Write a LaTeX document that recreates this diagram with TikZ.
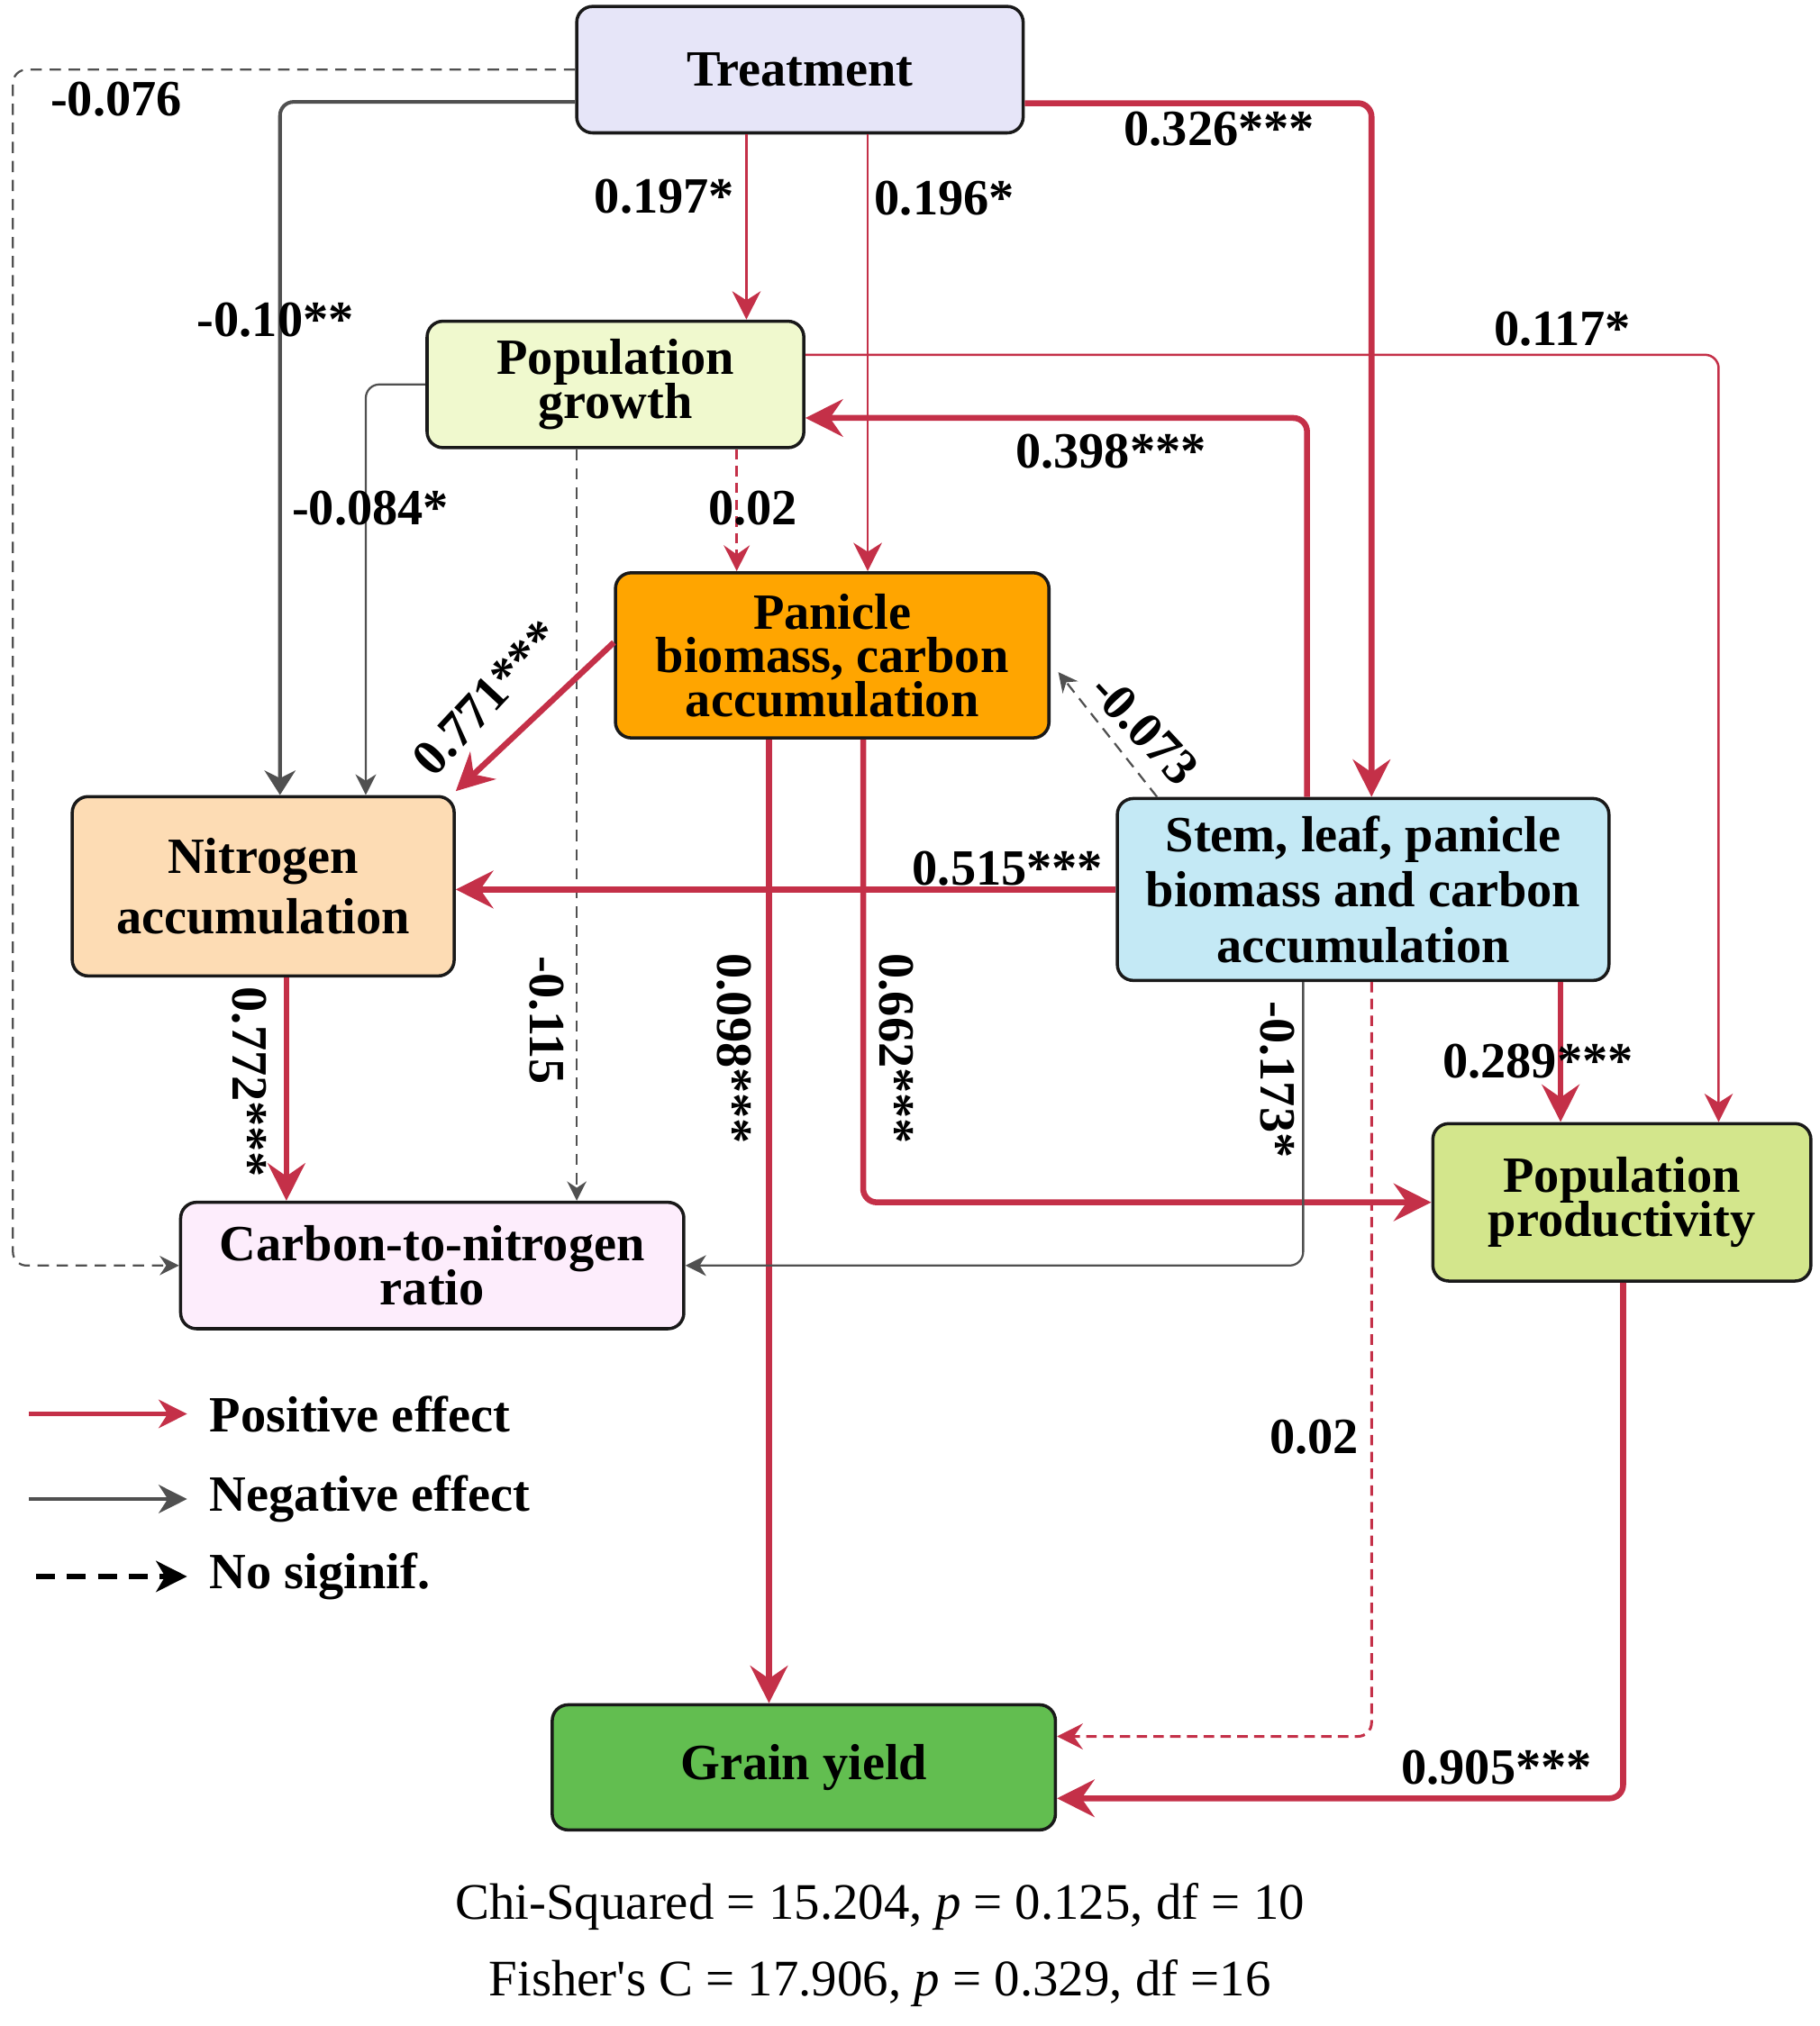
\documentclass[tikz,border=0pt]{standalone}
\usepackage{fontspec}
\setmainfont{Liberation Serif}
\newfontfamily\statfont{Liberation Serif}
\usepackage{tikz}
\usepackage{xcolor}
\usetikzlibrary{positioning,arrows.meta}

\definecolor{effred}{RGB}{196,48,72}
\definecolor{effgrey}{RGB}{80,80,80}
\definecolor{cTreat}{RGB}{230,229,248}
\definecolor{cPopG}{RGB}{240,249,206}
\definecolor{cPan}{RGB}{255,165,0}
\definecolor{cNit}{RGB}{253,220,180}
\definecolor{cStem}{RGB}{196,233,245}
\definecolor{cPopP}{RGB}{211,230,140}
\definecolor{cCN}{RGB}{253,237,252}
\definecolor{cGY}{RGB}{98,190,80}
\newcommand{\tightlines}{\lineskiplimit=-20pt\relax}

\begin{document}
\begin{tikzpicture}[font=\bfseries\fontsize{11.2}{9.6}\selectfont\tightlines,
   box/.style={draw=black!90, line width=0.7pt, rounded corners=3.5pt, align=center, inner sep=0pt},
   posthick/.style={effred, line width=1.3pt, rounded corners=3pt, -{Stealth[length=0.29cm,width=0.29cm,inset=0.1cm]}},
   posthin/.style={effred, line width=0.5pt, rounded corners=3pt, -{Stealth[length=0.22cm,width=0.22cm,inset=0.07cm]}},
   negthick/.style={effgrey, line width=0.8pt, rounded corners=3pt, -{Stealth[length=0.19cm,width=0.24cm,inset=0.06cm]}},
   negthin/.style={effgrey, line width=0.45pt, rounded corners=3pt, -{Stealth[length=0.16cm,width=0.16cm,inset=0.05cm]}},
   nsgrey/.style={effgrey, line width=0.45pt, rounded corners=3pt, dash pattern=on 2.5pt off 1.7pt, -{Stealth[length=0.15cm,width=0.15cm,inset=0.05cm]}},
   nsred/.style={effred, line width=0.6pt, rounded corners=3pt, dash pattern=on 2.3pt off 1.4pt, -{Stealth[length=0.2cm,width=0.2cm,inset=0.07cm]}},
   lab/.style={inner sep=1pt},
   legtxt/.style={anchor=west, inner sep=0pt}]
   \useasboundingbox (0,0) rectangle (14.10,-15.705);

   \node[box, fill=cTreat, minimum width=3.46cm, minimum height=0.98cm] (Treat) at (6.20,-0.54) {Treatment};
   \node[box, fill=cPopG, minimum width=2.92cm, minimum height=0.98cm] (PopG) at (4.77,-2.98) {Population\\growth};
   \node[box, fill=cPan, minimum width=3.36cm, minimum height=1.28cm] (Pan) at (6.45,-5.08) {Panicle\\biomass, carbon\\accumulation};
   \node[box, fill=cNit, minimum width=2.96cm, minimum height=1.39cm, font=\bfseries\fontsize{11.2}{13.4}\selectfont] (Nit) at (2.04,-6.87) {Nitrogen\\accumulation};
   \node[box, fill=cStem, minimum width=3.81cm, minimum height=1.41cm, font=\bfseries\fontsize{11.2}{12.2}\selectfont] (Stem) at (10.565,-6.895) {Stem, leaf, panicle\\biomass and carbon\\accumulation};
   \node[box, fill=cPopP, minimum width=2.93cm, minimum height=1.22cm] (PopP) at (12.57,-9.32) {Population\\productivity};
   \node[box, fill=cCN, minimum width=3.90cm, minimum height=0.98cm] (CN) at (3.35,-9.81) {Carbon-to-nitrogen\\ratio};
   \node[box, fill=cGY, minimum width=3.90cm, minimum height=0.97cm] (GY) at (6.23,-13.70) {Grain yield};

   \coordinate (xDash) at (0.10,0);
   \coordinate (xB) at (2.17,0);
   \coordinate (xC) at (2.835,0);
   \coordinate (xD) at (4.47,0);
   \coordinate (xE) at (5.71,0);
   \coordinate (xF) at (5.785,0);
   \coordinate (xG) at (6.725,0);
   \coordinate (xH) at (5.96,0);
   \coordinate (xI) at (6.69,0);
   \coordinate (xJ) at (10.13,0);
   \coordinate (xK) at (10.63,0);
   \coordinate (xL) at (13.32,0);
   \coordinate (xM) at (10.10,0);
   \coordinate (xN) at (12.095,0);
   \coordinate (xO) at (12.58,0);
   \coordinate (xP) at (2.22,0);

   \draw[nsgrey] (Treat.west) -| (xDash |- CN.west) -- (CN.west);
   \draw[negthick] ([yshift=-0.25cm]Treat.west) -| (Nit.north -| xB);
   \draw[posthin] (Treat.south -| xF) -- (PopG.north -| xF);
   \draw[posthin] (Treat.south -| xG) -- (Pan.north -| xG);
   \draw[posthick] ([yshift=-0.26cm]Treat.east) -| (Stem.north -| xK);
   \draw[posthin] ([yshift=0.23cm]PopG.east) -| (PopP.north -| xL);
   \draw[posthick] (Stem.north -| xJ) |- ([yshift=-0.26cm]PopG.east);
   \draw[negthin] (PopG.west) -| (Nit.north -| xC);
   \draw[nsgrey] (PopG.south -| xD) -- (CN.north -| xD);
   \draw[nsred] (PopG.south -| xE) -- (Pan.north -| xE);
   \draw[posthick] ([yshift=0.10cm]Pan.west) -- ([yshift=0.03cm]Nit.north east);
   \draw[nsgrey] ([xshift=0.32cm]Stem.north west) -- ([xshift=0.06cm,yshift=-0.13cm]Pan.east);
   \draw[posthick] (Stem.west) -- (Stem.west -| Nit.east);
   \draw[posthick] (Nit.south -| xP) -- (CN.north -| xP);
   \draw[posthick] (Pan.south -| xH) -- (GY.north -| xH);
   \draw[posthick] (Pan.south -| xI) |- (PopP.west);
   \draw[negthin] (Stem.south -| xM) |- (CN.east);
   \draw[nsred] (Stem.south -| xK) |- ([yshift=0.24cm]GY.east);
   \draw[posthick] (Stem.south -| xN) -- (PopP.north -| xN);
   \draw[posthick] (PopP.south -| xO) |- ([yshift=-0.24cm]GY.east);

   \node[lab] (lTC) at (0.90,-0.77) {-0.076};
   \node[lab] (lTN) at (2.135,-2.48) {-0.10**};
   \node[lab] (lTP) at (5.15,-1.52) {0.197*};
   \node[lab] (lTA) at (7.32,-1.54) {0.196*};
   \node[lab] (lTS) at (9.45,-1.00) {0.326***};
   \node[lab] (lPP) at (12.11,-2.55) {0.117*};
   \node[lab] (lSP) at (8.61,-3.50) {0.398***};
   \node[lab] (lPN) at (2.87,-3.94) {-0.084*};
   \node[lab] (lPA) at (5.835,-3.94) {0.02};
   \node[lab, rotate=47] (lAN) at (3.77,-5.41) {0.771***};
   \node[lab, rotate=-47] (lSA) at (8.87,-5.65) {-0.073};
   \node[lab] (lSN) at (7.81,-6.73) {0.515***};
   \node[lab, rotate=-90] (lNC) at (1.93,-8.39) {0.772***};
   \node[lab, rotate=-90] (lPC) at (4.24,-7.91) {-0.115};
   \node[lab, rotate=-90] (lAG) at (5.69,-8.13) {0.098***};
   \node[lab, rotate=-90] (lAP) at (6.945,-8.13) {0.662***};
   \node[lab, rotate=-90] (lSC) at (9.90,-8.37) {-0.173*};
   \node[lab] (lSQ) at (11.92,-8.23) {0.289***};
   \node[lab] (lSG) at (10.185,-11.14) {0.02};
   \node[lab] (lQG) at (11.60,-13.70) {0.905***};

   \node[legtxt] (legPos) at (1.62,-10.96) {Positive effect};
   \node[legtxt] (legNeg) at (1.62,-11.62) {Negative effect};
   \node[legtxt] (legNs) at (1.62,-12.22) {No siginif.};
   \coordinate (legPosS) at (0.225,-10.96);
   \coordinate (legNegS) at (0.225,-11.62);
   \coordinate (legNsS) at (0.28,-12.22);
   \draw[effred, line width=0.9pt, -{Stealth[length=0.22cm,width=0.22cm,inset=0.07cm]}] (legPosS) -- ([xshift=-0.17cm]legPos.west);
   \draw[effgrey, line width=0.9pt, -{Stealth[length=0.22cm,width=0.22cm,inset=0.07cm]}] (legNegS) -- ([xshift=-0.17cm]legNeg.west);
   \draw[black, line width=1.1pt, dash pattern=on 4.2pt off 2.6pt, -{Stealth[length=0.24cm,width=0.24cm,inset=0.07cm]}] (legNsS) -- ([xshift=-0.17cm]legNs.west);

   \node[font=\statfont\mdseries\fontsize{11.3}{13}\selectfont] (fitA) at (6.82,-14.78) {Chi-Squared = 15.204, \textit{p} = 0.125, df = 10};
   \node[font=\statfont\mdseries\fontsize{11.3}{13}\selectfont] (fitB) at (6.82,-15.37) {Fisher's C = 17.906, \textit{p} = 0.329, df =16};
\end{tikzpicture}
\end{document}
